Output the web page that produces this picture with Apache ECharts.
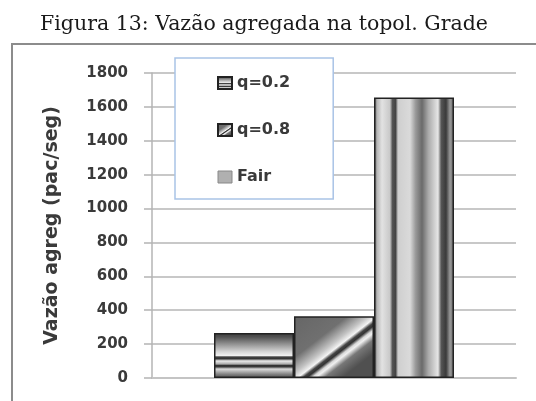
<!DOCTYPE html>
<html>
<head>
<meta charset="utf-8" />
<title>Figura 13</title>
<script src="https://cdn.jsdelivr.net/npm/echarts@6/dist/echarts.min.js"></script>
<style>
  html, body { margin: 0; padding: 0; background: #fff; }
  #main { width: 536px; height: 401px; }
</style>
</head>
<body>
<div id="main"></div>
<script>
// dados
var categorias = ['q=0.2', 'q=0.8', 'Fair'];
var valores = [265, 365, 1655];
var yTicks = { min: 0, max: 1800, interval: 200 };

var G = echarts.graphic.LinearGradient;

// preenchimentos "texturizados" de cada barra
var fill1 = new G(0, 0, 0, 1, [
  { offset: 0, color: '#3e3e3e' },
  { offset: 0.08, color: '#505050' },
  { offset: 0.42, color: '#d8d8d8' },
  { offset: 0.5, color: '#f0f0f0' },
  { offset: 0.53, color: '#444' },
  { offset: 0.57, color: '#333' },
  { offset: 0.62, color: '#ececec' },
  { offset: 0.69, color: '#aaa' },
  { offset: 0.72, color: '#333' },
  { offset: 0.75, color: '#3a3a3a' },
  { offset: 0.8, color: '#dcdcdc' },
  { offset: 0.93, color: '#777' },
  { offset: 1, color: '#555' }
]);
var fill2 = new G(0, 0, 0.6, 1, [
  { offset: 0, color: '#666' },
  { offset: 0.42, color: '#707070' },
  { offset: 0.58, color: '#c4c4c4' },
  { offset: 0.65, color: '#f4f4f4' },
  { offset: 0.69, color: '#444' },
  { offset: 0.72, color: '#333' },
  { offset: 0.76, color: '#d8d8d8' },
  { offset: 0.79, color: '#f0f0f0' },
  { offset: 0.86, color: '#777' },
  { offset: 1, color: '#505050' }
]);
var fill3 = new G(0, 0, 1, 0, [
  { offset: 0, color: '#555' },
  { offset: 0.04, color: '#b8b8b8' },
  { offset: 0.1, color: '#e2e2e2' },
  { offset: 0.2, color: '#c8c8c8' },
  { offset: 0.23, color: '#555' },
  { offset: 0.27, color: '#444' },
  { offset: 0.3, color: '#cfcfcf' },
  { offset: 0.45, color: '#dadada' },
  { offset: 0.52, color: '#999' },
  { offset: 0.6, color: '#6a6a6a' },
  { offset: 0.68, color: '#aaa' },
  { offset: 0.8, color: '#e6e6e6' },
  { offset: 0.84, color: '#555' },
  { offset: 0.9, color: '#3a3a3a' },
  { offset: 0.95, color: '#999' },
  { offset: 1, color: '#666' }
]);
var fills = [fill1, fill2, fill3];

var chart = echarts.init(document.getElementById('main'));

var series = categorias.map(function (nome, i) {
  return {
    name: nome,
    type: 'bar',
    data: [valores[i]],
    barWidth: 80,
    barGap: '0%',
    itemStyle: { color: fills[i], borderColor: '#222', borderWidth: 1.5 }
  };
});

var option = {
  backgroundColor: '#fff',
  animation: false,
  title: {
    text: 'Figura 13: Vazão agregada na topol. Grade',
    left: 259, textAlign: 'center', top: 9,
    textStyle: { fontFamily: 'DejaVu Serif', fontWeight: 'normal', fontSize: 20.5, color: '#1a1a1a' }
  },
  graphic: [{
    type: 'rect',
    shape: { x: 12, y: 44, width: 700, height: 500 },
    style: { fill: 'none', stroke: '#8c8c8c', lineWidth: 2 },
    z: -1
  }],
  legend: {
    orient: 'vertical',
    left: 175, top: 58,
    padding: [17, 43, 14, 42],
    itemWidth: 14, itemHeight: 12,
    itemGap: 31,
    backgroundColor: '#fff',
    borderColor: '#a9c3e6', borderWidth: 1.5,
    textStyle: { fontFamily: 'DejaVu Sans', fontWeight: 'bold', fontSize: 16, color: '#3a3a3a', lineHeight: 14 },
    data: [
      { name: 'q=0.2', icon: 'rect' },
      { name: 'q=0.8', icon: 'rect' },
      { name: 'Fair', icon: 'rect', itemStyle: { color: '#b0b0b0', borderColor: '#888', borderWidth: 1 } }
    ],
    z: 10
  },
  grid: { left: 152, right: 20, top: 73, bottom: 23, containLabel: false },
  xAxis: {
    type: 'category',
    data: [''],
    axisLine: { lineStyle: { color: '#c4c4c4', width: 2 } },
    axisTick: { show: false },
    axisLabel: { show: false }
  },
  yAxis: {
    type: 'value',
    min: yTicks.min, max: yTicks.max, interval: yTicks.interval,
    name: 'Vazão agreg (pac/seg)',
    nameLocation: 'middle',
    nameGap: 90,
    nameTextStyle: { fontFamily: 'DejaVu Sans', fontWeight: 'bold', fontSize: 19, color: '#3a3a3a' },
    axisLine: { show: true, lineStyle: { color: '#b4b4b4', width: 1.5 } },
    axisTick: { show: true, length: 8, lineStyle: { color: '#b4b4b4', width: 1.5 } },
    axisLabel: {
      margin: 24, fontFamily: 'DejaVu Sans', fontWeight: 'bold', fontSize: 15, color: '#3a3a3a',
      formatter: function (v) { return String(v); }
    },
    splitLine: { lineStyle: { color: '#c8c8c8', width: 2 } }
  },
  series: series
};

chart.setOption(option);
</script>
</body>
</html>
